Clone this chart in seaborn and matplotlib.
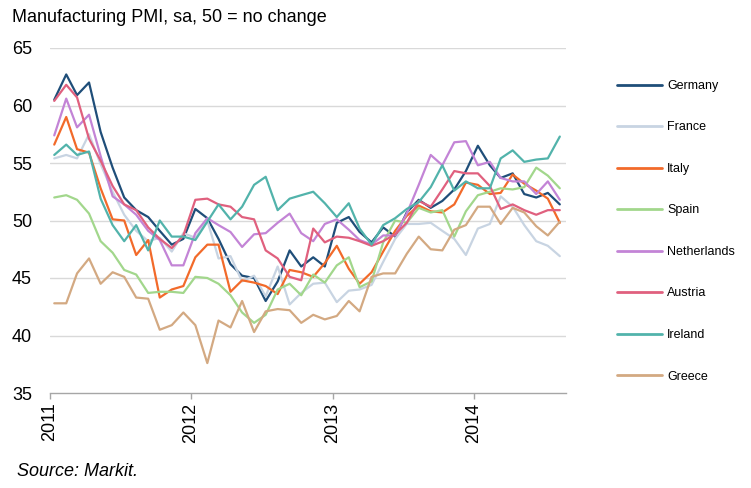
import pandas as pd
import numpy as np
import matplotlib
matplotlib.use("Agg")
import matplotlib.pyplot as plt
import matplotlib.dates as mdates
import seaborn as sns

# monthly readings, Jan 2011 .. Aug 2014
germany = [60.5, 62.7, 60.9, 62.0, 57.7, 54.6, 52.0, 50.9, 50.3, 49.1, 47.9, 48.4,
           51.0, 50.2, 48.4, 46.2, 45.2, 45.0, 43.0, 44.7, 47.4, 46.0, 46.8, 46.0,
           49.8, 50.3, 49.0, 48.1, 49.4, 48.6, 50.7, 51.8, 51.1, 51.7, 52.7, 54.3,
           56.5, 54.8, 53.7, 54.1, 52.3, 52.0, 52.4, 51.4]
france = [55.4, 55.7, 55.4, 57.5, 54.9, 52.5, 50.5, 49.1, 48.2, 48.5, 47.3, 48.9,
          48.5, 50.0, 46.7, 46.9, 44.7, 45.2, 43.4, 46.0, 42.7, 43.7, 44.5, 44.6,
          42.9, 43.9, 44.0, 44.4, 46.4, 48.4, 49.7, 49.7, 49.8, 49.1, 48.4, 47.0,
          49.3, 49.7, 52.1, 51.2, 49.6, 48.2, 47.8, 46.9]
italy = [56.6, 59.0, 56.2, 55.9, 52.8, 50.1, 50.0, 47.0, 48.3, 43.3, 44.0, 44.3,
         46.8, 47.9, 47.9, 43.8, 44.8, 44.6, 44.3, 43.6, 45.7, 45.5, 45.1, 46.3,
         47.8, 45.8, 44.5, 45.5, 47.3, 49.1, 50.4, 51.3, 50.8, 50.7, 51.4, 53.3,
         53.1, 52.3, 52.4, 54.0, 53.2, 52.6, 51.9, 49.8]
spain = [52.0, 52.2, 51.8, 50.6, 48.2, 47.2, 45.7, 45.3, 43.7, 43.8, 43.8, 43.7,
         45.1, 45.0, 44.5, 43.5, 42.0, 41.1, 41.8, 44.0, 44.5, 43.5, 45.3, 44.6,
         46.1, 46.8, 44.2, 44.7, 48.1, 50.0, 49.8, 51.1, 50.7, 50.9, 48.6, 50.8,
         52.2, 52.5, 52.8, 52.7, 52.9, 54.6, 53.9, 52.8]
netherlands = [57.4, 60.6, 58.1, 59.2, 55.6, 52.1, 51.4, 50.5, 49.1, 48.3, 46.1, 46.1,
               48.9, 50.2, 49.6, 49.0, 47.7, 48.8, 48.9, 49.8, 50.6, 48.9, 48.2, 49.7,
               50.1, 49.2, 48.3, 47.9, 48.7, 48.7, 50.6, 53.1, 55.7, 54.8, 56.8, 56.9,
               54.8, 55.1, 53.7, 53.4, 53.4, 52.3, 53.4, 51.8]
austria = [60.4, 61.8, 60.7, 57.1, 55.2, 53.0, 51.4, 50.9, 49.4, 48.4, 47.6, 48.7,
           51.8, 51.9, 51.4, 51.2, 50.3, 50.1, 47.4, 46.7, 45.1, 44.8, 49.3, 48.1,
           48.6, 48.5, 48.2, 47.8, 48.2, 48.8, 49.8, 51.7, 51.2, 52.7, 54.3, 54.1,
           54.1, 53.0, 51.0, 51.4, 50.9, 50.5, 50.9, 50.9]
ireland = [55.7, 56.6, 55.7, 56.0, 51.9, 49.6, 48.2, 49.6, 47.4, 50.0, 48.6, 48.6,
           48.3, 49.9, 51.4, 50.1, 51.2, 53.1, 53.8, 50.9, 51.9, 52.2, 52.5, 51.5,
           50.3, 51.5, 49.3, 47.9, 49.6, 50.2, 51.0, 51.6, 52.9, 54.8, 52.6, 53.4,
           52.8, 52.8, 55.4, 56.1, 55.1, 55.3, 55.4, 57.3]
greece = [42.8, 42.8, 45.4, 46.7, 44.5, 45.5, 45.1, 43.3, 43.2, 40.5, 40.9, 42.0,
          40.9, 37.6, 41.3, 40.7, 43.0, 40.3, 42.1, 42.3, 42.2, 41.1, 41.8, 41.4,
          41.7, 43.0, 42.1, 45.1, 45.4, 45.4, 47.1, 48.6, 47.5, 47.4, 49.2, 49.6,
          51.2, 51.2, 49.7, 51.1, 50.7, 49.5, 48.7, 49.9]

countries = ["Germany", "France", "Italy", "Spain", "Netherlands", "Austria", "Ireland", "Greece"]
series = [germany, france, italy, spain, netherlands, austria, ireland, greece]
colors = ["#1F4E79", "#C8D4E2", "#F26A2A", "#A2D78C", "#C384D6", "#E0607E", "#52B3AB", "#D3A982"]

dates = pd.date_range("2011-01-01", periods=len(germany), freq="MS") + pd.Timedelta(days=11)

frames = []
for name, vals in zip(countries, series):
    frames.append(pd.DataFrame({"date": dates, "value": vals, "country": name}))
df = pd.concat(frames, ignore_index=True)

sns.set_theme(style="white")
plt.rcParams['font.family'] = ['Liberation Sans', 'DejaVu Sans']
plt.rcParams['text.color'] = 'black'
plt.rcParams['xtick.labelcolor'] = 'black'
plt.rcParams['ytick.labelcolor'] = 'black'

fig = plt.figure(figsize=(7.51, 4.88), dpi=100)
ax = fig.add_axes([50/751, 1-393/488, 516/751, 345/488])

sns.lineplot(data=df, x="date", y="value", hue="country", hue_order=countries,
             palette=dict(zip(countries, colors)), linewidth=1.6, ax=ax, legend=True)

ax.set_ylim(35, 65)
ax.set_yticks([35, 40, 45, 50, 55, 60, 65])
ax.set_xlim(pd.Timestamp("2011-01-01"), pd.Timestamp("2014-08-28"))
ax.xaxis.set_major_locator(mdates.YearLocator())
ax.xaxis.set_major_formatter(mdates.DateFormatter("%Y"))
ax.set_xlabel("")
ax.set_ylabel("")

for y in [40, 45, 50, 55, 60, 65]:
    ax.axhline(y, color="#d9d9d9", linewidth=1.0, zorder=0)

for s in ["top", "right", "left"]:
    ax.spines[s].set_visible(False)
ax.spines["bottom"].set_color("#a6a6a6")
ax.spines["bottom"].set_linewidth(1.0)

ax.tick_params(axis="y", length=0, pad=13, labelsize=13, labelcolor="black")
ax.tick_params(axis="x", direction="out", length=4, width=1, color="#a6a6a6",
               pad=3, labelsize=13, labelrotation=90, bottom=True, labelcolor="black")

handles, labels = ax.get_legend_handles_labels()
ax.get_legend().remove()
leg = fig.legend(handles, labels, loc="upper left", bbox_to_anchor=(617/751, 1-80/488),
                 frameon=False, fontsize=9, handlelength=3.6, handletextpad=0.4,
                 labelspacing=2.36, borderpad=0, borderaxespad=0)
for h in leg.get_lines():
    h.set_linewidth(2)
for t in leg.get_texts():
    t.set_color("black")

fig.text(12/751, 1-18/488, "Manufacturing PMI, sa, 50 = no change", fontsize=13,
         va="center", ha="left", color="black")
fig.text(17/751, 1-472/488, "Source: Markit.", fontsize=13, style="italic",
         va="center", ha="left", color="black")

fig.savefig("out.png", dpi=100)
